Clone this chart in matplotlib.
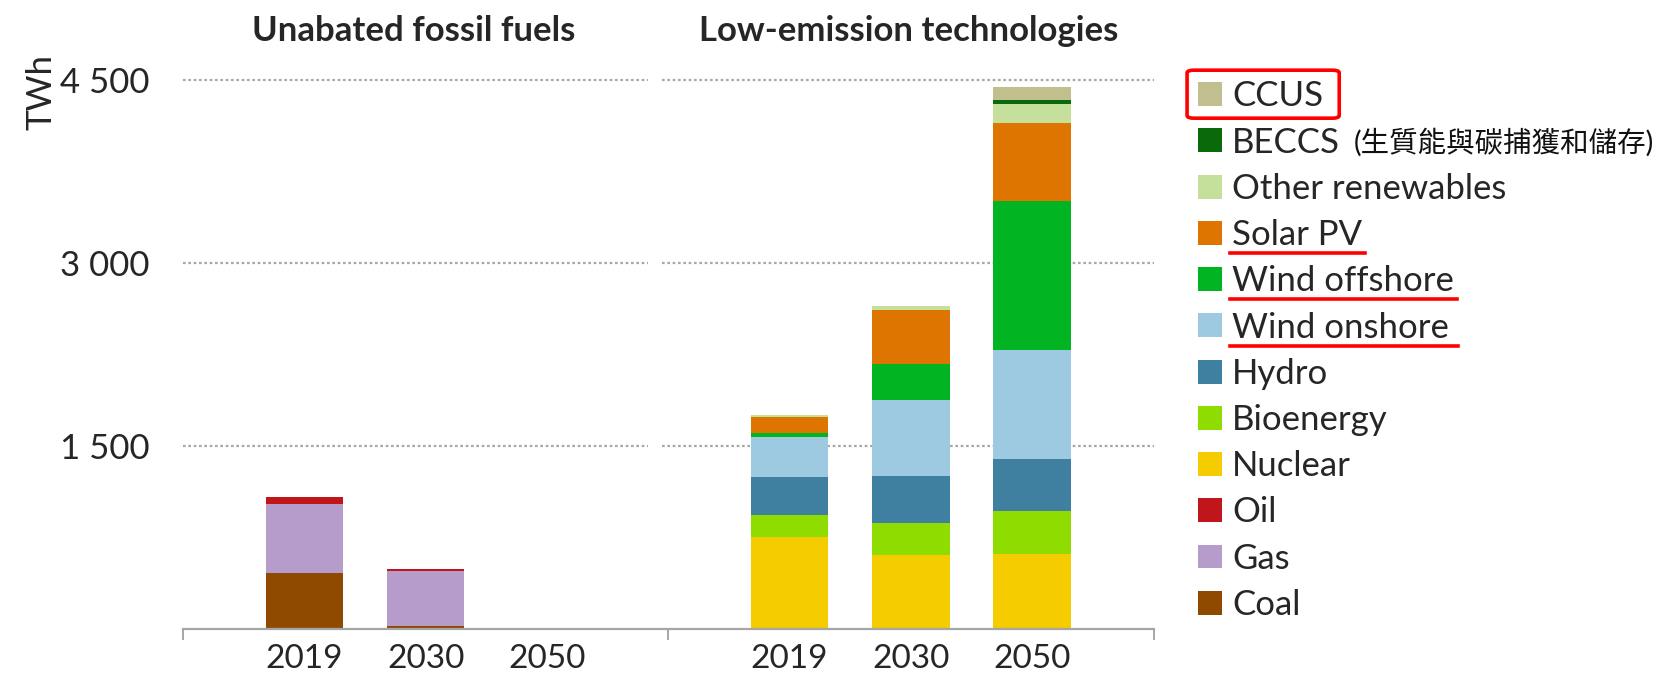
import matplotlib
matplotlib.use('Agg')
import matplotlib.pyplot as plt
import matplotlib.transforms as mtransforms
from matplotlib.patches import Patch, FancyBboxPatch
from matplotlib.lines import Line2D
import numpy as np

plt.rcParams['font.family'] = ['Lato', 'Noto Sans CJK TC', 'DejaVu Sans']

years = ['2019', '2030', '2050']

# Unabated fossil fuels (TWh)
coal = [460, 25, 0]
gas = [567, 448, 8]
oil = [57, 20, 4]

# Low-emission technologies (TWh)
nuclear = [753, 607, 617]
bioenergy = [182, 260, 351]
hydro = [315, 390, 428]
wind_onshore = [325, 620, 893]
wind_offshore = [32, 292, 1218]
solar_pv = [130, 445, 639]
other_renewables = [16, 32, 156]
beccs = [0, 0, 39]
ccus = [0, 0, 107]

y_ticks = [1500, 3000, 4500]
group_titles = ['Unabated fossil fuels', 'Low-emission technologies']
beccs_note = '(生質能與碳捕獲和儲存)'

colors = {
    'CCUS': '#C2BF8F',
    'BECCS': '#0A6A0A',
    'Other renewables': '#C4E09A',
    'Solar PV': '#DE7500',
    'Wind offshore': '#00B521',
    'Wind onshore': '#9DCAE0',
    'Hydro': '#3F7FA0',
    'Bioenergy': '#8EDC00',
    'Nuclear': '#F5CC00',
    'Oil': '#C0161B',
    'Gas': '#B59CCB',
    'Coal': '#8F4A00',
}

fossil = [('Coal', coal), ('Gas', gas), ('Oil', oil)]
low = [('Nuclear', nuclear), ('Bioenergy', bioenergy), ('Hydro', hydro),
       ('Wind onshore', wind_onshore), ('Wind offshore', wind_offshore),
       ('Solar PV', solar_pv), ('Other renewables', other_renewables),
       ('BECCS', beccs), ('CCUS', ccus)]

txt_color = '#262626'
fs = 25

fig = plt.figure(figsize=(16.67, 6.81), dpi=100)
ax = fig.add_axes([0.1098, 0.0764, 0.5822, 0.8416])

fossil_x = np.arange(3)
low_x = np.arange(3) + 4
bar_w = 0.64

# 堆疊柱
for xs, series in [(fossil_x, fossil), (low_x, low)]:
    bottom = np.zeros(3)
    for name, vals in series:
        ax.bar(xs, vals, bar_w, bottom=bottom, color=colors[name], zorder=2, linewidth=0)
        bottom += np.array(vals)

# 分段的虛線網格
grid_kw = dict(colors='#A8A8A8', linestyles=(0, (1.2, 1.2)), linewidth=1.6, zorder=0)
ax.hlines(y_ticks, -1, 2.83, **grid_kw)
ax.hlines(y_ticks, 2.95, 7.0, **grid_kw)

ax.set_xlim(-1, 7)
ax.set_ylim(0, 4700)
for s in ['top', 'right', 'left']:
    ax.spines[s].set_visible(False)
ax.spines['bottom'].set_color('#A6A6A6')
ax.spines['bottom'].set_linewidth(1.6)

ax.set_xticks(np.concatenate([fossil_x, low_x]))
ax.set_xticklabels(years + years, fontsize=24, color=txt_color)
ax.set_xticks([-1, 3, 7], minor=True)
ax.tick_params(axis='x', which='major', length=0, pad=11)
ax.tick_params(axis='x', which='minor', length=8, width=1.4, color='#A6A6A6')

ax.set_yticks(y_ticks)
ax.set_yticklabels([f'{v:,}'.replace(',', ' ') for v in y_ticks], fontsize=fs, color=txt_color)
ax.tick_params(axis='y', length=0, pad=24)

trans = mtransforms.blended_transform_factory(ax.transData, fig.transFigure)
ax.text(0.9, 0.955, group_titles[0], transform=trans, ha='center', va='center',
        fontsize=fs, fontweight='bold', color=txt_color)
ax.text(4.98, 0.955, group_titles[1], transform=trans, ha='center', va='center',
        fontsize=fs, fontweight='bold', color=txt_color)

fig.text(0.025, 0.865, 'TWh', rotation=90, ha='center', va='center', fontsize=fs, color=txt_color)

# 圖例
order = ['CCUS', 'BECCS', 'Other renewables', 'Solar PV', 'Wind offshore', 'Wind onshore',
         'Hydro', 'Bioenergy', 'Nuclear', 'Oil', 'Gas', 'Coal']
handles = [Patch(facecolor=colors[n], edgecolor='none') for n in order]
leg = fig.legend(handles, order, loc='upper left', bbox_to_anchor=(0.7187, 0.882),
                 frameon=False, fontsize=fs, handlelength=0.68, handleheight=0.68,
                 handletextpad=0.3, labelspacing=0.41, borderpad=0, borderaxespad=0)
for t in leg.get_texts():
    t.set_color(txt_color)

fig.canvas.draw()
renderer = fig.canvas.get_renderer()
texts = leg.get_texts()
W, H = fig.bbox.width, fig.bbox.height

# BECCS 後面的中文說明
bb = texts[1].get_window_extent(renderer)
fig.text((bb.x1 + 14) / W, (bb.y0 + bb.y1) / 2 / H, beccs_note, fontsize=20.5,
         ha='left', va='center', color='#111111')

# CCUS 紅框
bb_t = texts[0].get_window_extent(renderer)
bb_h = leg.legend_handles[0].get_window_extent(renderer)
yc = (bb_h.y0 + bb_h.y1) / 2
x0, x1 = bb_h.x0 - 11, bb_t.x1 + 16
y0, y1 = yc - 24, yc + 24
fig.add_artist(FancyBboxPatch((x0 / W, y0 / H), (x1 - x0) / W, (y1 - y0) / H,
                              boxstyle='round,pad=0,rounding_size=0.004',
                              transform=fig.transFigure, fill=False,
                              edgecolor='#FF0000', linewidth=2.6))

# 紅色底線
for i, extra in [(3, 3), (4, 3), (5, 9)]:
    bb = texts[i].get_window_extent(renderer)
    yline = (bb.y0 + bb.y1) / 2 - 18
    fig.add_artist(Line2D([(bb.x0 - 2) / W, (bb.x1 + extra) / W], [yline / H, yline / H],
                          transform=fig.transFigure, color='#FF0000', linewidth=2.6))

fig.savefig('out.png', dpi=100)
